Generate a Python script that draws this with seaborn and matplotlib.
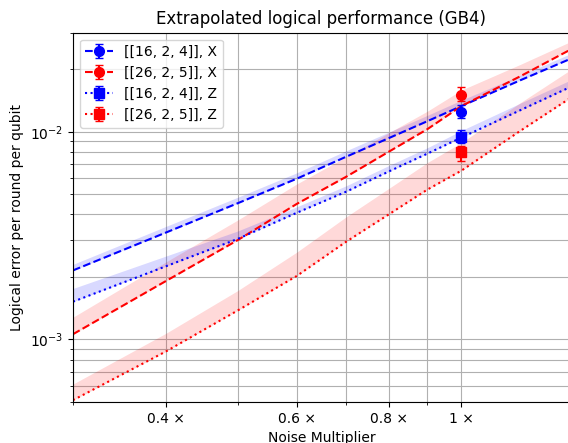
import numpy as np
import pandas as pd
import matplotlib
matplotlib.use("Agg")
import matplotlib.pyplot as plt
from matplotlib.ticker import NullFormatter
import seaborn as sns

# noise multipliers of the extrapolation curves
noise = [0.3, 0.4, 0.5, 0.6, 0.7, 0.8, 0.9, 1.0, 1.2, 1.4]

# extrapolated logical error per round per qubit (central curve + upper band edge)
x16 = [2.15e-3, 3.27e-3, 4.53e-3, 5.94e-3, 7.59e-3, 9.35e-3, 1.125e-2, 1.33e-2, 1.77e-2, 2.24e-2]
x16_hi = [2.30e-3, 3.50e-3, 4.84e-3, 6.34e-3, 8.11e-3, 9.99e-3, 1.20e-2, 1.42e-2, 1.87e-2, 2.37e-2]
x26 = [1.06e-3, 1.91e-3, 3.01e-3, 4.49e-3, 6.08e-3, 8.05e-3, 1.03e-2, 1.33e-2, 1.85e-2, 2.48e-2]
x26_hi = [1.28e-3, 2.36e-3, 3.76e-3, 5.60e-3, 7.59e-3, 9.93e-3, 1.257e-2, 1.588e-2, 2.11e-2, 2.71e-2]
z16 = [1.52e-3, 2.25e-3, 3.05e-3, 4.07e-3, 5.15e-3, 6.46e-3, 7.85e-3, 9.38e-3, 1.27e-2, 1.64e-2]
z16_hi = [1.76e-3, 2.52e-3, 3.33e-3, 4.35e-3, 5.50e-3, 6.90e-3, 8.38e-3, 1.014e-2, 1.373e-2, 1.77e-2]
z26 = [5.1e-4, 8.75e-4, 1.38e-3, 2.02e-3, 2.96e-3, 4.02e-3, 5.27e-3, 6.5e-3, 1.01e-2, 1.45e-2]
z26_hi = [6.1e-4, 1.07e-3, 1.72e-3, 2.63e-3, 3.90e-3, 5.36e-3, 7.11e-3, 8.87e-3, 1.38e-2, 1.98e-2]

# measured points at noise multiplier 1 (value, lower, upper)
labels = ["[[16, 2, 4]], X", "[[26, 2, 5]], X", "[[16, 2, 4]], Z", "[[26, 2, 5]], Z"]
meas = [1.25e-2, 1.50e-2, 9.46e-3, 8.01e-3]
meas_lo = [1.17e-2, 1.41e-2, 8.8e-3, 7.26e-3]
meas_hi = [1.34e-2, 1.64e-2, 1.02e-2, 8.5e-3]

xticks = [0.4, 0.6, 0.8, 1.0]
xticklabels = ["0.4 ×", "0.6 ×", "0.8 ×", "1 ×"]

fig = plt.figure(figsize=(5.68, 4.43), dpi=100)
ax = fig.add_axes([0.1285, 0.0926, 0.875, 0.8336])

curves = [
    (x16, x16_hi, "blue", "--"),
    (x26, x26_hi, "red", "--"),
    (z16, z16_hi, "blue", ":"),
    (z26, z26_hi, "red", ":"),
]
for y, y_hi, color, ls in curves:
    df = pd.DataFrame({"noise": noise, "err": y})
    sns.lineplot(data=df, x="noise", y="err", color=color, linestyle=ls, linewidth=1.5, ax=ax)
    ax.fill_between(noise, y, y_hi, color=color, alpha=0.15, linewidth=0)

styles = [("blue", "--", "o"), ("red", "--", "o"), ("blue", ":", "s"), ("red", ":", "s")]
for (color, ls, mk), lab, v, lo, hi in zip(styles, labels, meas, meas_lo, meas_hi):
    ax.errorbar([1.0], [v], yerr=[[v - lo], [hi - v]], fmt=mk, linestyle=ls, color=color,
                capsize=3, markersize=7, label=lab)

ax.set_xscale("log")
ax.set_yscale("log")
ax.set_xlim(0.3, 1.4)
ax.set_ylim(5e-4, 3e-2)
ax.set_xticks(xticks)
ax.set_xticklabels(xticklabels)
ax.set_xticks([0.3, 0.5, 0.7, 0.9], minor=True)
ax.xaxis.set_minor_formatter(NullFormatter())
ax.grid(True, which="both", color="#b0b0b0", linewidth=0.8)
ax.set_axisbelow(True)

ax.set_title("Extrapolated logical performance (GB4)")
ax.set_xlabel("Noise Multiplier")
ax.set_ylabel("Logical error per round per qubit")
ax.legend(loc="upper left")

fig.savefig("out.png", dpi=100)
